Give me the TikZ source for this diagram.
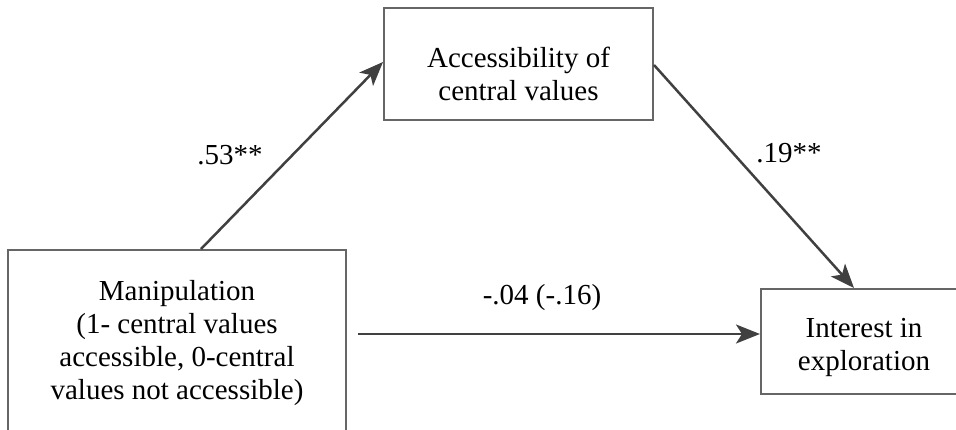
\documentclass[tikz,border=0pt]{standalone}
\usepackage{fontspec}
\setmainfont{Liberation Serif}
\usetikzlibrary{arrows.meta}
\definecolor{boxgray}{HTML}{666666}
\definecolor{arrgray}{HTML}{404040}
\tikzset{
  boxnode/.style={draw=boxgray, line width=2pt, rectangle, inner sep=0pt},
  txt/.style={align=center, inner sep=0pt, font=\fontsize{29}{33}\selectfont},
  arr/.style={draw=arrgray, line width=2.5pt, -{Stealth[length=24pt, width=19pt, inset=6pt]}},
}
\begin{document}
\begin{tikzpicture}[x=1pt,y=1pt]
\useasboundingbox (0,0) rectangle (956,-430);
\clip (0,0) rectangle (956,-430);
% boxes
\node[boxnode, minimum width=338pt, minimum height=186pt] (manip) at (177,-343) {};
\node[boxnode, minimum width=269pt, minimum height=112pt] (acc) at (518.5,-64) {};
\node[boxnode, minimum width=206pt, minimum height=105pt] (int) at (864,-341.5) {};
% texts
\node[txt] (maniptxt) at (177,-343) {Manipulation\\(1- central values\\accessible, 0-central\\values not accessible)};
\node[txt] (acctxt) at (518.5,-73.6) {Accessibility of\\central values};
\node[txt] (inttxt) at (864,-347) {Interest in\\exploration};
% connectors
\draw[arr] ([xshift=194pt]manip.north west) -- ([yshift=-55pt]acc.north west);
\draw[arr] ([yshift=-58pt]acc.north east) -- ([xshift=94pt]int.north west);
\draw[arr] ([xshift=11pt,yshift=-85pt]manip.north east) -- ([yshift=-46pt]int.north west);
% labels
\node[txt, anchor=base] (l1) at (230,-165) {.53**};
\node[txt, anchor=base] (l2) at (789,-163) {.19**};
\node[txt, anchor=base] (l3) at (542,-305) {-.04 (-.16)};
\end{tikzpicture}
\end{document}
